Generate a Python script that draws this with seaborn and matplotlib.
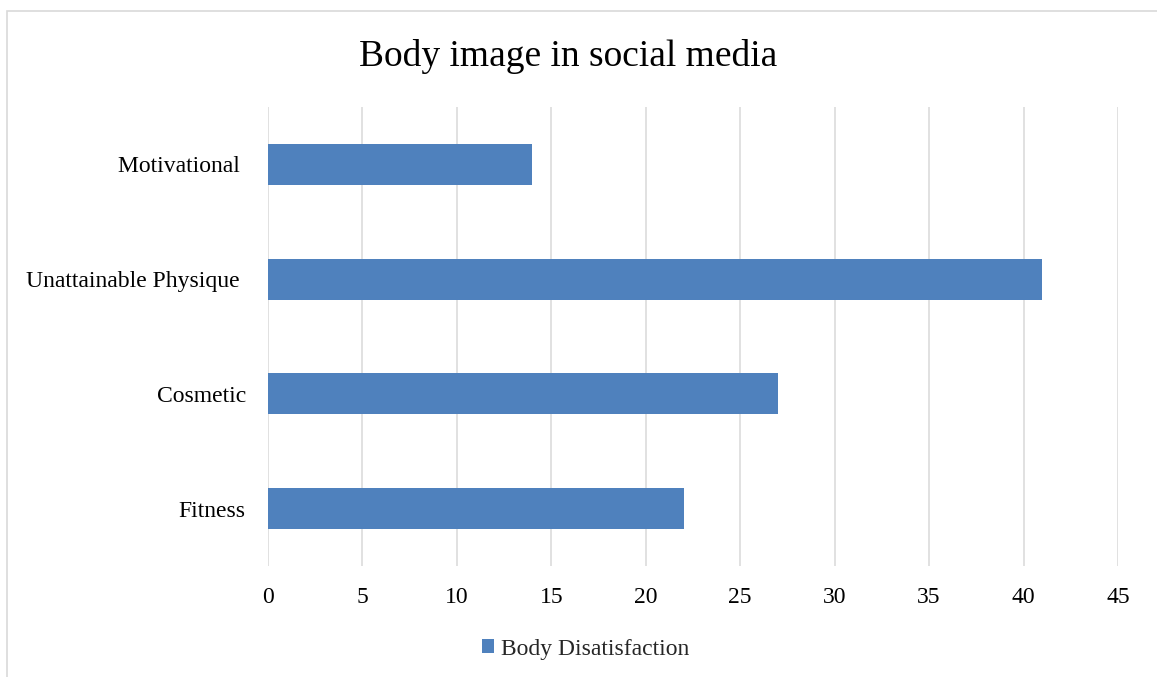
import matplotlib
matplotlib.use("Agg")
import matplotlib.pyplot as plt
import matplotlib.patches as mpatches
import pandas as pd
import seaborn as sns

sns.set_theme(style="white")
plt.rcParams['font.family'] = ['Liberation Serif', 'DejaVu Serif']

categories = ['Motivational ', 'Unattainable Physique ', 'Cosmetic', 'Fitness']
values     = [14, 41, 27, 22]
series     = 'Body Disatisfaction'
xticks     = [0, 5, 10, 15, 20, 25, 30, 35, 40, 45]

df = pd.DataFrame({'category': categories, 'value': values})

W, H = 1157, 677
fig = plt.figure(figsize=(W / 100, H / 100), dpi=100)
ax = fig.add_axes([268 / W, 1 - 566 / H, (1118 - 268) / W, (566 - 107) / H])

sns.barplot(data=df, x='value', y='category', orient='h', color='#4F81BD',
            width=0.357, saturation=1, label=series, linewidth=0, ax=ax)

ax.set_xlim(0, 45)
ax.set_xticks(xticks)
ax.set_xlabel('')
ax.set_ylabel('')
ax.xaxis.grid(True, color='#D9D9D9', linewidth=1.1)
ax.yaxis.grid(False)
ax.set_axisbelow(True)
for s in ax.spines.values():
    s.set_visible(False)
ax.tick_params(axis='x', length=0, pad=15, labelsize=17, labelcolor='black')
ax.tick_params(axis='y', length=0, pad=16, labelsize=17, labelcolor='black')

handles, labels = ax.get_legend_handles_labels()
if ax.get_legend() is not None:
    ax.get_legend().remove()

fig.text(568 / W, 1 - 57 / H, 'Body image in social media', ha='center', va='center',
         fontsize=27, color='black')

fig.legend(handles, labels, loc='center', bbox_to_anchor=(586 / W, 1 - 649 / H),
           frameon=False, fontsize=17, handlelength=0.5, handleheight=0.5,
           handletextpad=0.3)

# outer chart border (left and top visible)
frame = mpatches.Rectangle((7 / W, -0.1), 1.2, 1.1 - 11 / H, transform=fig.transFigure,
                           fill=False, edgecolor='#D9D9D9', linewidth=1.2)
fig.patches.append(frame)

fig.savefig('out.png', dpi=100)
